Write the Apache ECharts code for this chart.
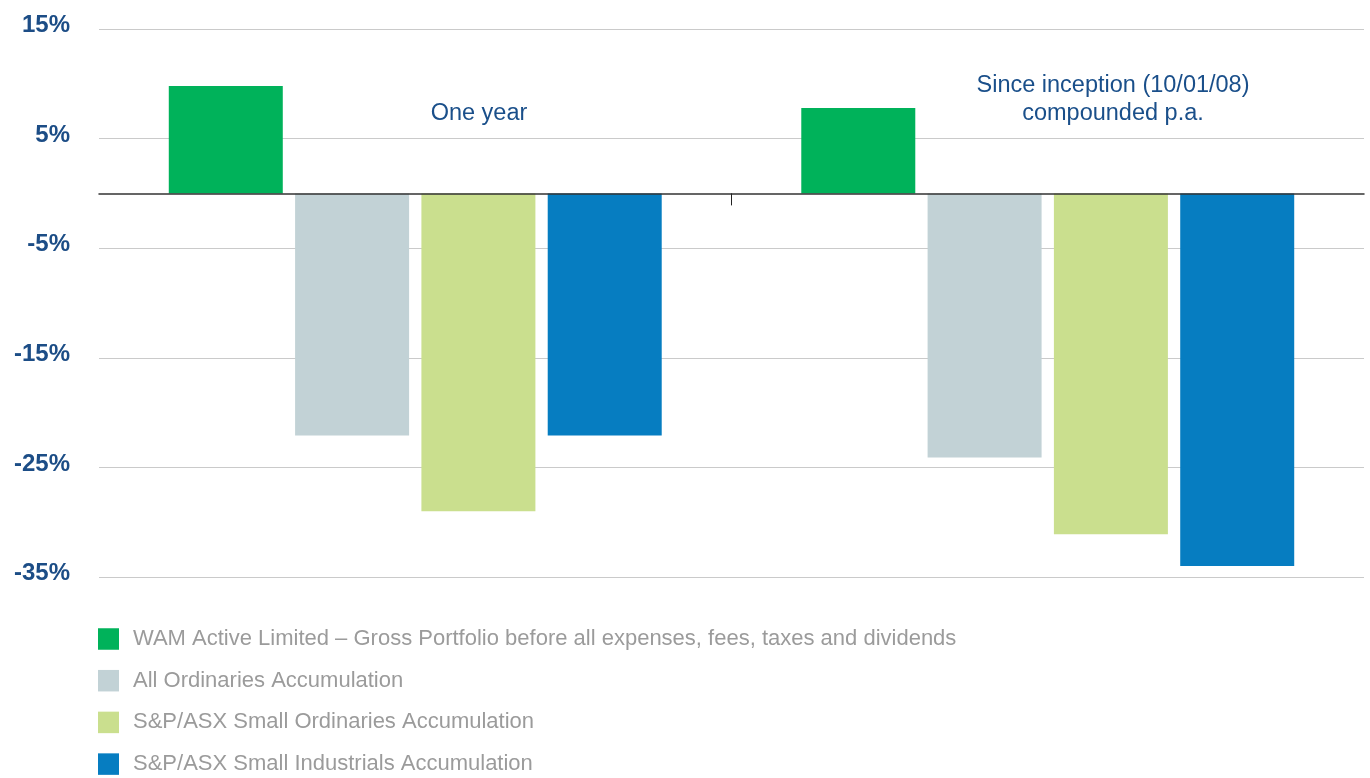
<!DOCTYPE html>
<html>
<head>
<meta charset="utf-8">
<script src="https://cdn.jsdelivr.net/npm/echarts@6/dist/echarts.min.js"></script>
<style>
	html, body { margin: 0; padding: 0; background: #fff; }
	#chart { width: 1370px; height: 778px; }
</style>
</head>
<body>
<div id="chart"></div>
<script>
var categories = ['One year', 'Since inception (10/01/08)\ncompounded p.a.'];
var seriesNames = [
	'WAM Active Limited \u2013 Gross Portfolio before all expenses, fees, taxes and dividends',
	'All Ordinaries Accumulation',
	'S&P/ASX Small Ordinaries Accumulation',
	'S&P/ASX Small Industrials Accumulation'
];
var wamActive = [9.8, 7.8];
var allOrds = [-22.1, -24.1];
var smallOrds = [-29.0, -31.1];
var smallInds = [-22.1, -34.0];
var yTicks = [-35, -25, -15, -5, 5, 15];

var colors = ['#00b25a', '#c2d2d6', '#cadf8e', '#067dc1'];
var values = [wamActive, allOrds, smallOrds, smallInds];
var font = '"Liberation Sans", Arial, sans-serif';

var option = {
	animation: false,
	color: colors,
	textStyle: {
		fontFamily: font
	},
	grid: {
		left: 99,
		right: 6,
		top: 29,
		bottom: 201
	},
	legend: {
		orient: 'vertical',
		left: 98,
		top: 625,
		height: 200,
		padding: 0,
		itemWidth: 21,
		itemHeight: 21.5,
		itemGap: 13.7,
		icon: 'rect',
		textStyle: {
			color: '#9b9b9b',
			fontSize: 22,
			lineHeight: 21,
			// push the text a little below the icon centre
			padding: [7, 0, 0, 9]
		},
		data: seriesNames
	},
	xAxis: [{
		type: 'category',
		data: categories,
		axisLine: { show: false, onZero: false },
		axisTick: { show: false },
		axisLabel: { show: false }
	}, {
		// helper axis: zero line and the single tick between the two groups
		type: 'value',
		min: 0,
		max: 2,
		interval: 1,
		position: 'bottom',
		z: 5,
		axisLine: {
			show: true,
			onZero: true,
			lineStyle: { color: '#333', width: 1.5 }
		},
		axisTick: {
			show: true,
			length: 12,
			customValues: [1],
			lineStyle: { color: '#222' }
		},
		axisLabel: { show: false },
		splitLine: { show: false }
	}],
	yAxis: {
		type: 'value',
		min: -35,
		max: 15,
		interval: 5,
		axisLine: { show: false },
		axisTick: { show: false },
		splitLine: {
			lineStyle: {
				// only every second line (15, 5, -5 ...) is drawn
				color: ['#cacaca', 'rgba(0,0,0,0)'],
				width: 1.2
			}
		},
		axisLabel: {
			margin: 29,
			color: '#1c4d86',
			fontSize: 24,
			fontWeight: 'bold',
			verticalAlign: 'bottom',
			lineHeight: 7,
			formatter: function (v) {
				return yTicks.indexOf(v) >= 0 ? v + '%' : '';
			}
		}
	},
	graphic: [{
		type: 'text',
		x: 479,
		y: 114,
		style: {
			text: categories[0],
			fill: '#1a4f8a',
			align: 'center',
			verticalAlign: 'middle',
			font: '23.5px ' + font
		}
	}, {
		type: 'text',
		x: 1113,
		y: 100,
		style: {
			text: categories[1],
			fill: '#1a4f8a',
			align: 'center',
			verticalAlign: 'middle',
			lineHeight: 28,
			font: '23.5px ' + font
		}
	}],
	series: seriesNames.map(function (name, i) {
		return {
			name: name,
			type: 'bar',
			xAxisIndex: 0,
			barWidth: 114,
			barGap: '10.8%',
			data: values[i],
			itemStyle: {
				color: colors[i]
			}
		};
	})
};

var myChart = echarts.init(document.getElementById('chart'));
myChart.setOption(option);
</script>
</body>
</html>
